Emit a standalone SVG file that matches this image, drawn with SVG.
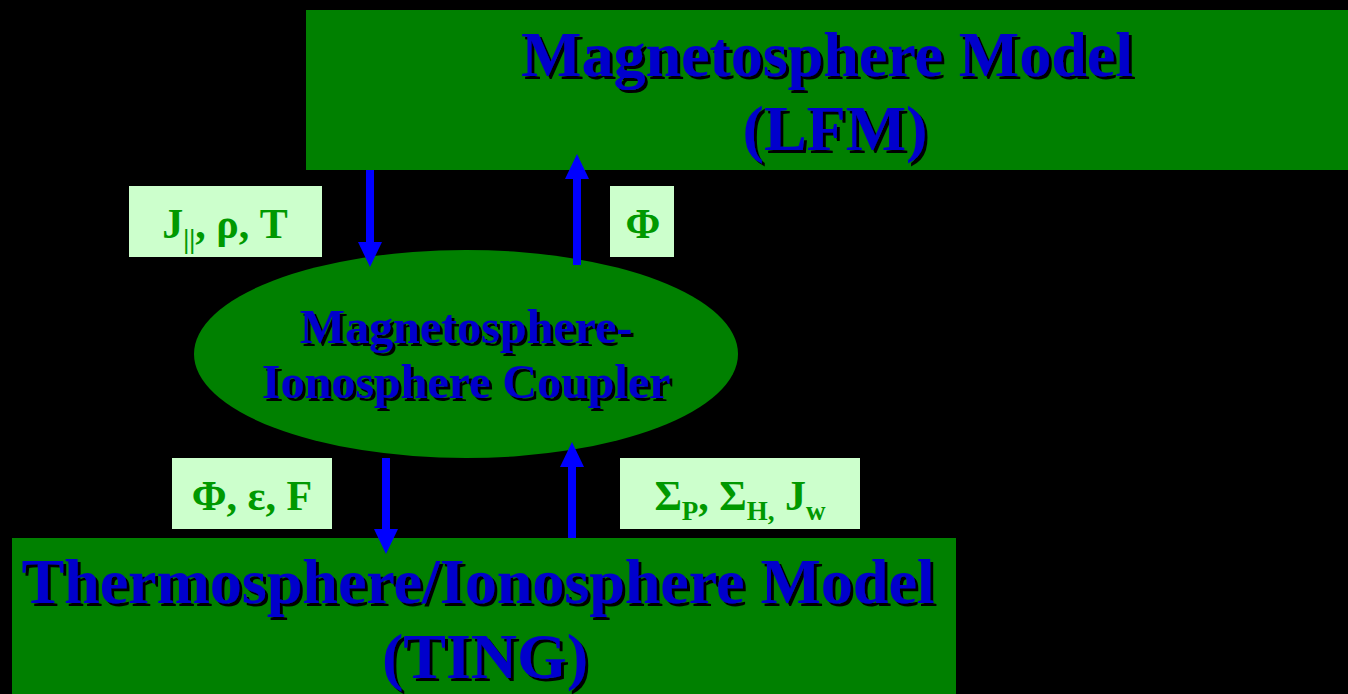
<svg xmlns="http://www.w3.org/2000/svg" width="1348" height="694" viewBox="0 0 1348 694">
<defs>
<style>
.t{font-family:"Liberation Serif","Times New Roman",serif;font-weight:bold;text-anchor:middle;fill:#0000cc;filter:url(#shadow)}
.big{font-size:64px}
.mid{font-size:48px}
.lbl{font-family:"Liberation Serif","Times New Roman",serif;font-weight:bold;font-size:42px;fill:#009900;text-anchor:middle}
.sub{font-size:27px}
.box{fill:#008000}
.lab{fill:#ccffcc}
.arr{stroke:#0000ff;stroke-width:8;fill:none}
</style>
<filter id="shadow" x="-5%" y="-20%" width="110%" height="140%">
<feFlood flood-color="#000000" result="c"/>
<feComposite in="c" in2="SourceAlpha" operator="in" result="s"/>
<feOffset in="s" dx="3" dy="3" result="o"/>
<feMerge><feMergeNode in="o"/><feMergeNode in="SourceGraphic"/></feMerge>
</filter>
<marker id="ah" markerUnits="userSpaceOnUse" markerWidth="25" markerHeight="24" refX="0" refY="12" orient="auto" viewBox="0 0 25 24">
<path d="M0,0 L25,12 L0,24 z" fill="#0000ff"/>
</marker>
</defs>
<rect width="1348" height="694" fill="#000000"/>
<g id="lfm">
<rect class="box" x="306" y="10" width="1042" height="160"/>
<text class="t big" x="827" y="76">Magnetosphere Model</text>
<text class="t big" x="835" y="150">(LFM)</text>
</g>
<g id="coupler">
<ellipse class="box" cx="466" cy="354" rx="272" ry="104"/>
<text class="t mid" x="466" y="343">Magnetosphere-</text>
<text class="t mid" x="466" y="398">Ionosphere Coupler</text>
</g>
<g id="ting">
<rect class="box" x="12" y="538" width="944" height="156"/>
<text class="t big" x="478" y="603">Thermosphere/Ionosphere Model</text>
<text class="t big" x="485" y="678">(TING)</text>
</g>
<g id="label-jrt">
<rect class="lab" x="129" y="186" width="193" height="71"/>
<text class="lbl" x="225" y="238">J<tspan class="sub" dy="10">||</tspan><tspan dy="-10">, ρ, T</tspan></text>
</g>
<g id="label-phi">
<rect class="lab" x="610" y="186" width="64" height="71"/>
<text class="lbl" x="643" y="238">Φ</text>
</g>
<g id="label-phief">
<rect class="lab" x="172" y="458" width="160" height="71"/>
<text class="lbl" x="252" y="510">Φ, ε, F</text>
</g>
<g id="label-sigma">
<rect class="lab" x="620" y="458" width="240" height="71"/>
<text class="lbl" x="740" y="510">Σ<tspan class="sub" dy="10">P</tspan><tspan dy="-10">, Σ</tspan><tspan class="sub" dy="10">H,</tspan><tspan dy="-10"> J</tspan><tspan class="sub" dy="10">w</tspan></text>
</g>
<g id="connectors">
<line class="arr" x1="370" y1="170" x2="370" y2="242" marker-end="url(#ah)"/>
<line class="arr" x1="577" y1="265" x2="577" y2="179" marker-end="url(#ah)"/>
<line class="arr" x1="386" y1="458" x2="386" y2="529" marker-end="url(#ah)"/>
<line class="arr" x1="572" y1="538" x2="572" y2="467" marker-end="url(#ah)"/>
</g>
</svg>
